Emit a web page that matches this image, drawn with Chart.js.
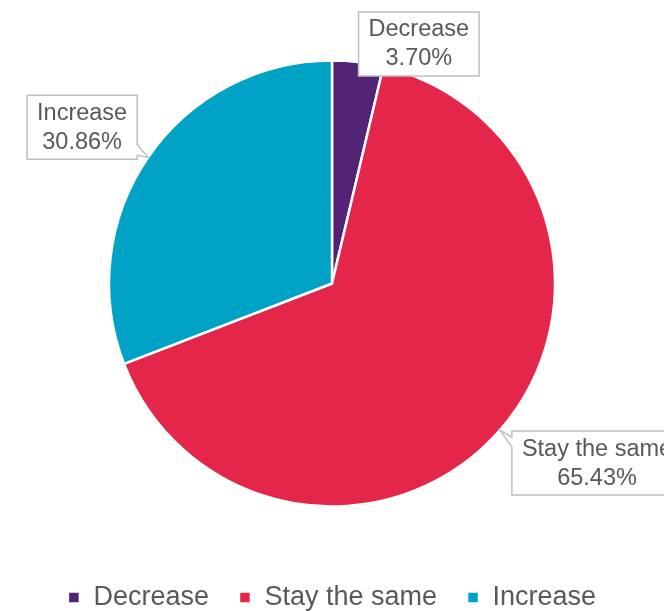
<!DOCTYPE html>
<html>
<head>
<meta charset="utf-8">
<script src="https://cdn.jsdelivr.net/npm/chart.js@4"></script>
<style>
  html, body { margin: 0; padding: 0; background: #fff; }
  #wrap { width: 664px; height: 611px; }
</style>
</head>
<body>
<div id="wrap"><canvas id="pieChart" width="664" height="611"></canvas></div>
<script>
// Chart data
const categories = ['Decrease', 'Stay the same', 'Increase'];
const shares = [3.70, 65.43, 30.86];
const sliceColors = ['#532475', '#E4264A', '#00A3C6'];

// Callout box offsets from the slice edge point (style only)
const calloutOffsets = [[61, -18], [97, 33], [-66, -30]];

const FONT = '"Liberation Sans", Arial, sans-serif';

// Draws callout boxes with a small pointer towards each slice
const calloutPlugin = {
    id: 'callouts',
    afterDatasetsDraw(chart) {
        const ctx = chart.ctx;
        const meta = chart.getDatasetMeta(0);
        ctx.save();
        ctx.font = '23.5px ' + FONT;
        meta.data.forEach((arc, i) => {
            const mid = (arc.startAngle + arc.endAngle) / 2;
            const tip = {
                x: arc.x + Math.cos(mid) * arc.outerRadius,
                y: arc.y + Math.sin(mid) * arc.outerRadius
            };
            const lines = [categories[i], shares[i].toFixed(2) + '%'];
            const w = Math.max(...lines.map(t => ctx.measureText(t).width)) + 20;
            const h = 64;
            const cx = tip.x + calloutOffsets[i][0];
            const cy = tip.y + calloutOffsets[i][1];
            const l = cx - w / 2, r = cx + w / 2, t = cy - h / 2, b = cy + h / 2;

            // box outline, with wedge on the side facing the tip
            const clamp = (v, lo, hi) => Math.min(Math.max(v, lo), hi);
            ctx.beginPath();
            ctx.moveTo(l, t);
            ctx.lineTo(r, t);
            if (tip.x > r + 4) {
                const c = clamp(tip.y, t + 8, b - 8);
                ctx.lineTo(r, c - 7);
                ctx.lineTo(tip.x, tip.y);
                ctx.lineTo(r, c + 4);
            }
            ctx.lineTo(r, b);
            ctx.lineTo(l, b);
            if (tip.x < l - 4) {
                const c = clamp(tip.y, t + 6, b - 8);
                ctx.lineTo(l, c + 10);
                ctx.lineTo(tip.x, tip.y);
                ctx.lineTo(l, c);
            }
            ctx.closePath();
            ctx.fillStyle = '#ffffff';
            ctx.fill();
            ctx.strokeStyle = '#BFBFBF';
            ctx.lineWidth = 1.5;
            ctx.stroke();

            ctx.fillStyle = '#595959';
            ctx.textAlign = 'center';
            ctx.textBaseline = 'middle';
            ctx.fillText(lines[0], cx, cy - 14);
            ctx.fillText(lines[1], cx, cy + 15);
        });
        ctx.restore();
    }
};

const pieCtx = document.getElementById('pieChart').getContext('2d');
const pieChart = new Chart(pieCtx, {
    type: 'pie',
    data: {
        labels: categories,
        datasets: [{
            data: shares,
            backgroundColor: sliceColors,
            borderColor: '#ffffff',
            borderWidth: 2.5,
            radius: 223
        }]
    },
    options: {
        responsive: false,
        animation: false,
        layout: {
            padding: { top: 13, bottom: -10 }
        },
        plugins: {
            legend: {
                position: 'bottom',
                labels: {
                    usePointStyle: true,
                    pointStyle: 'rect',
                    boxWidth: 12,
                    boxHeight: 12,
                    padding: 30,
                    color: '#595959',
                    font: { family: FONT, size: 27 }
                }
            },
            tooltip: { enabled: false }
        }
    },
    plugins: [calloutPlugin]
});
</script>
</body>
</html>
